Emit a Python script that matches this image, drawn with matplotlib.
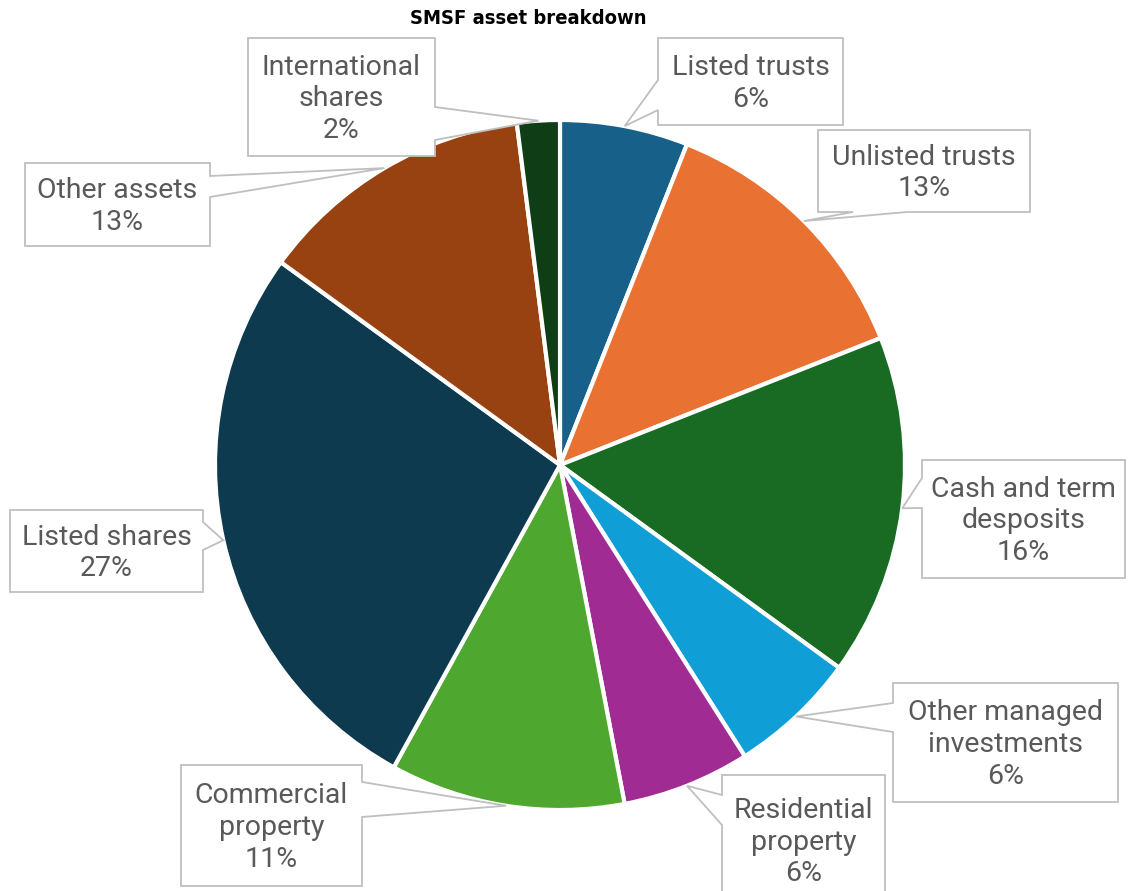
import matplotlib
matplotlib.use("Agg")
import matplotlib.pyplot as plt
from matplotlib.patches import Polygon
import numpy as np

# ---- data ----
categories = [
    "Listed trusts", "Unlisted trusts", "Cash and term\ndesposits",
    "Other managed\ninvestments", "Residential\nproperty",
    "Commercial\nproperty", "Listed shares", "Other assets",
    "International\nshares",
]
shares = [6, 13, 16, 6, 6, 11, 27, 13, 2]
colors = ["#17608A", "#E97132", "#196B24", "#0F9ED5", "#A02B93",
          "#4EA72E", "#0E3A4F", "#984211", "#0E3D16"]
title = "SMSF asset breakdown"

# ---- layout (pixel coordinates, y measured from the top) ----
W, H = 1130, 891
pie_center = (560, 465)
pie_radius = 345
# callout box: (left, top, right, bottom), edge carrying the pointer, pointer base span
callouts = [
    ((658, 38, 843, 125), "left", (80, 110)),
    ((818, 130, 1030, 212), "bottom", (853, 907)),
    ((922, 460, 1125, 578), "left", (478, 508)),
    ((893, 683, 1118, 802), "left", (703, 732)),
    ((722, 775, 885, 905), "left", (795, 825)),
    ((181, 765, 362, 886), "right", (782, 817)),
    ((10, 510, 203, 592), "right", (522, 550)),
    ((25, 163, 210, 246), "right", (176, 197)),
    ((248, 38, 435, 156), "right", (107, 140)),
]


def fy(y):
    return H - y


fig = plt.figure(figsize=(W / 100, H / 100), dpi=100)
ax = fig.add_axes([0, 0, 1, 1])

wedges, _ = ax.pie(
    shares, colors=colors, startangle=90, counterclock=False,
    center=(pie_center[0], fy(pie_center[1])), radius=pie_radius,
    wedgeprops=dict(edgecolor="white", linewidth=3),
)

ax.set_xlim(0, W)
ax.set_ylim(0, H)
ax.set_aspect("equal")
ax.axis("off")

label_color = "#595959"
box_edge = "#BFBFBF"

for wedge, name, share, (box, side, span) in zip(wedges, categories, shares, callouts):
    x0, y0, x1, y1 = box
    mid = np.deg2rad((wedge.theta1 + wedge.theta2) / 2)
    cx, cy = wedge.center
    tip = (cx + wedge.r * np.cos(mid), cy + wedge.r * np.sin(mid))
    a, b = span
    tl, tr, br, bl = (x0, fy(y0)), (x1, fy(y0)), (x1, fy(y1)), (x0, fy(y1))
    if side == "right":
        pts = [tl, tr, (x1, fy(a)), tip, (x1, fy(b)), br, bl]
    elif side == "left":
        pts = [tl, tr, br, bl, (x0, fy(b)), tip, (x0, fy(a))]
    elif side == "bottom":
        pts = [tl, tr, br, (b, fy(y1)), tip, (a, fy(y1)), bl]
    else:
        pts = [tl, (a, fy(y0)), tip, (b, fy(y0)), tr, br, bl]
    ax.add_patch(Polygon(pts, closed=True, facecolor="white",
                         edgecolor=box_edge, linewidth=1.3, zorder=3))
    ax.text((x0 + x1) / 2, fy((y0 + y1) / 2) - 2,
            f"{name}\n{share}%", ha="center", va="center",
            fontsize=20.5, family="Roboto", color=label_color,
            linespacing=1.22, zorder=4)

ax.text(528, fy(18), title, ha="center", va="center",
        fontsize=14.5, fontweight="bold", fontstretch="condensed",
        family="DejaVu Sans", color="black")

fig.savefig("out.png", dpi=100)
